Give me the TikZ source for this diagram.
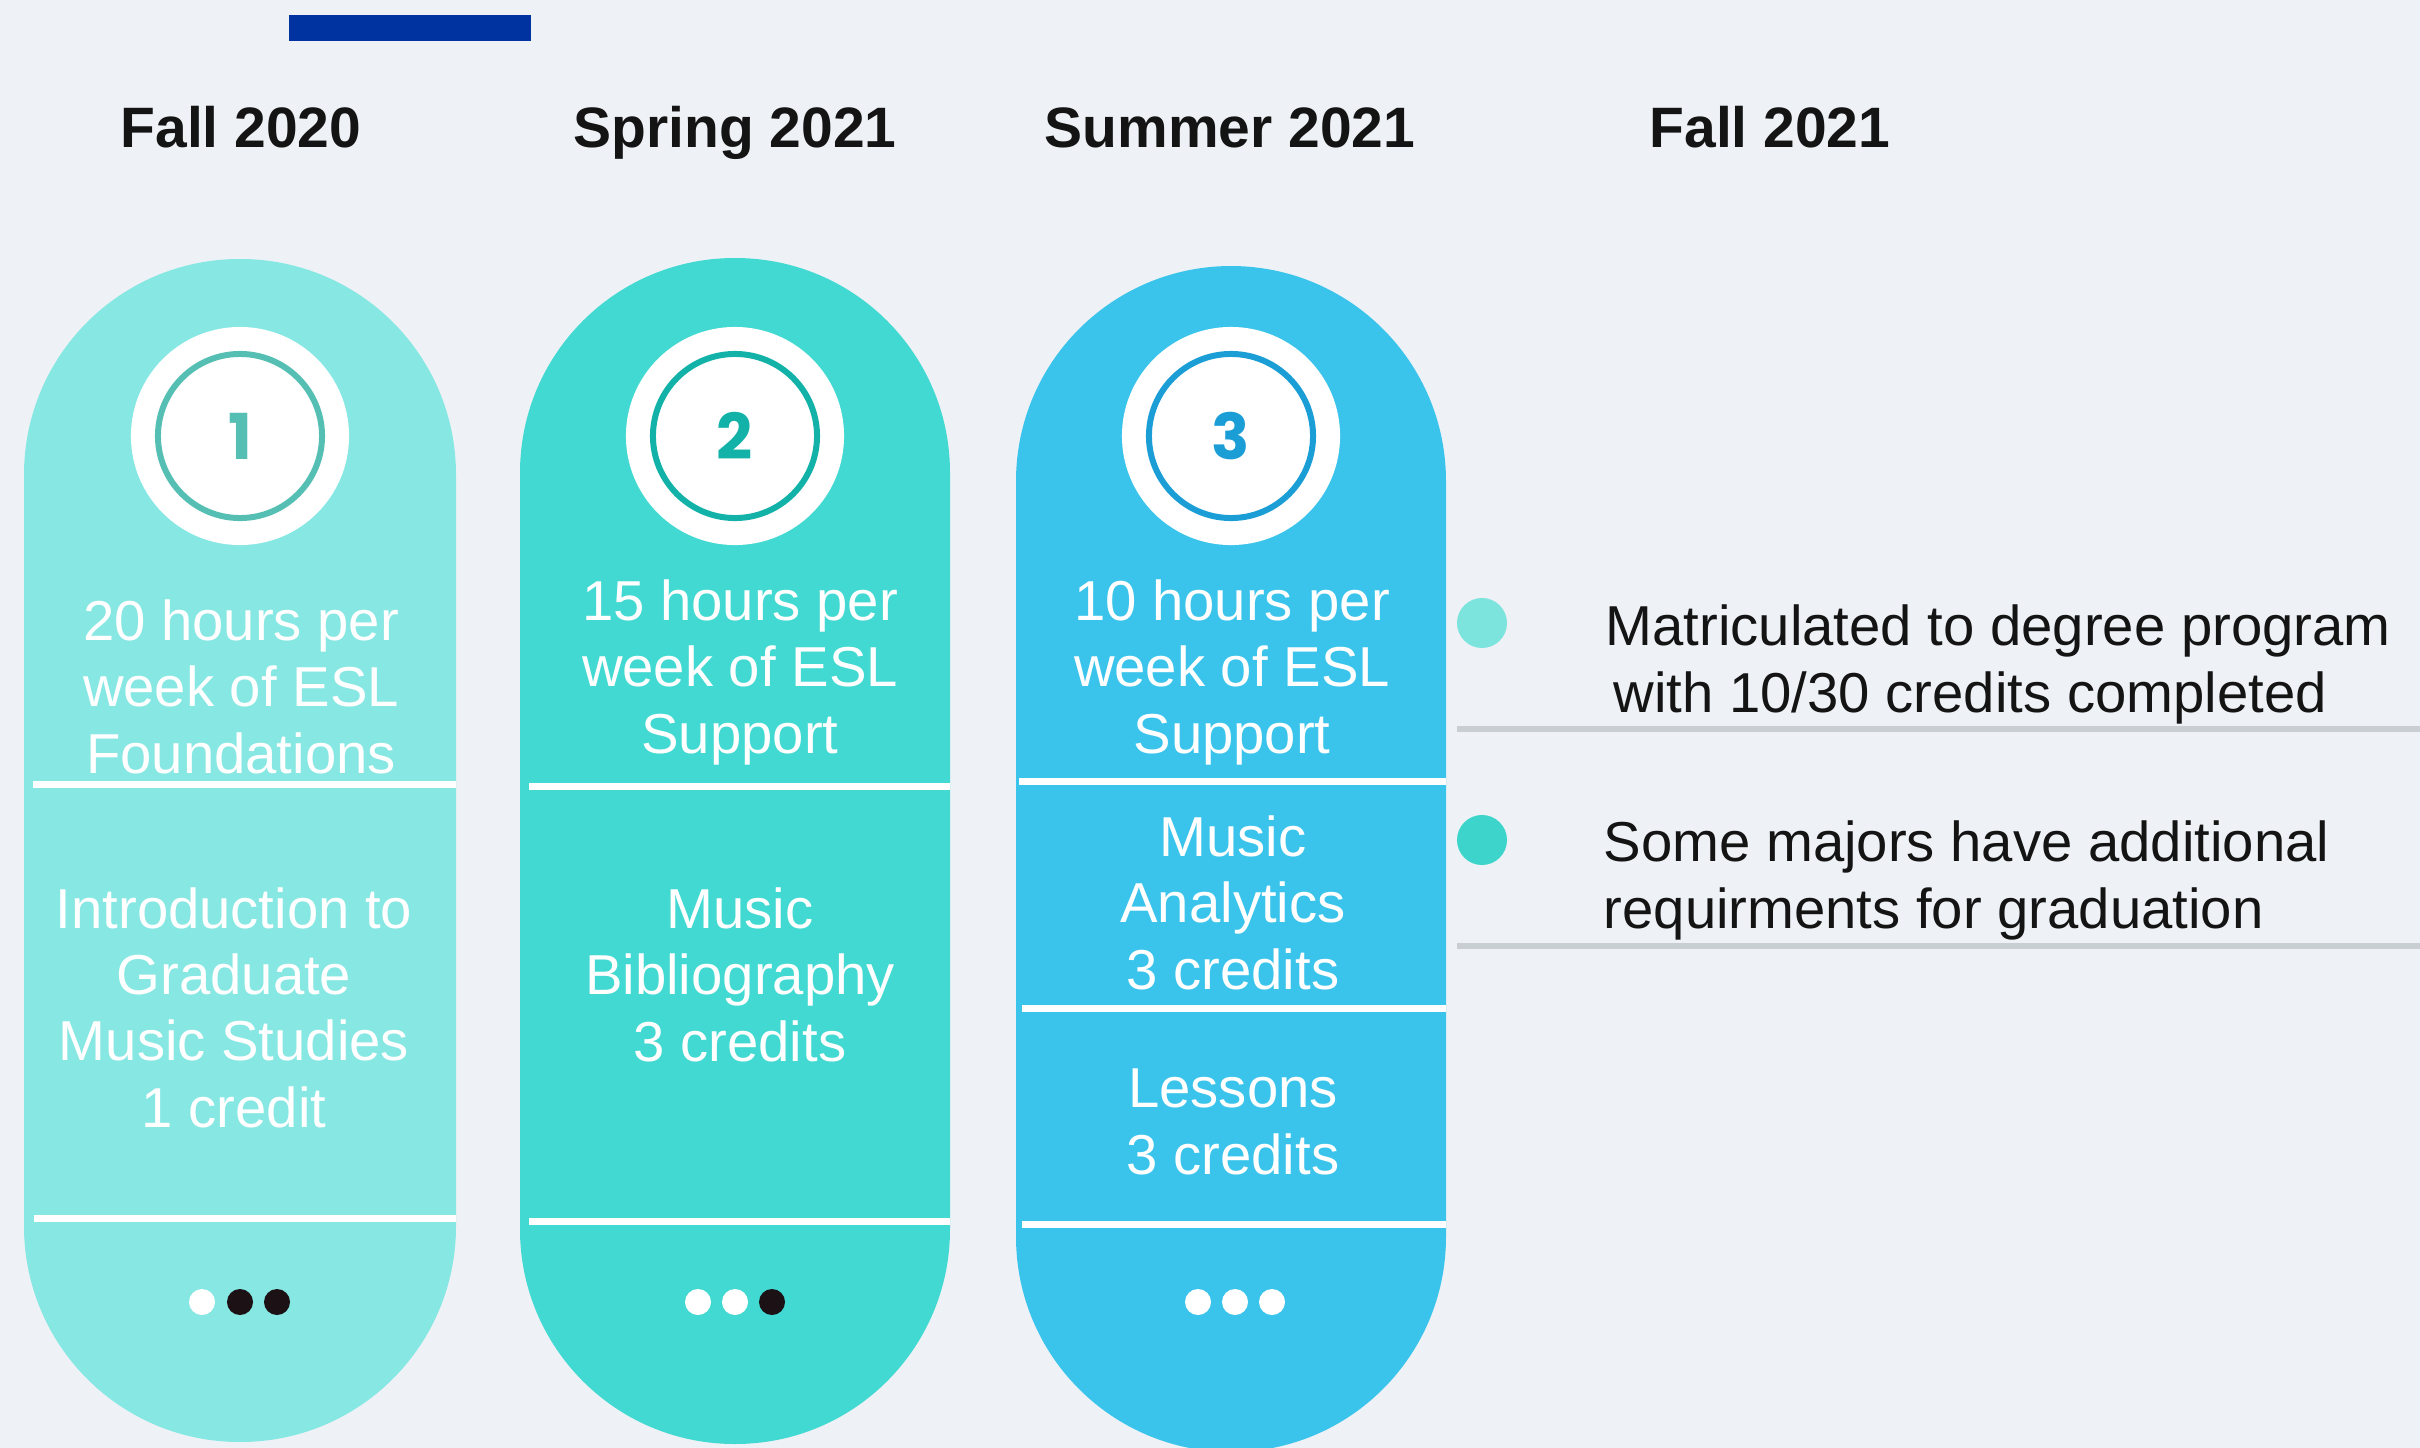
\documentclass[tikz,border=0pt]{standalone}
\usepackage{fontspec}
\setmainfont{Liberation Sans}
\newfontfamily\numfont{Poppins}
\definecolor{bgc}{HTML}{EEF2F6}
\definecolor{barblue}{HTML}{0033A0}
\definecolor{pillA}{HTML}{86E7E3}
\definecolor{pillB}{HTML}{41D9D1}
\definecolor{pillC}{HTML}{3AC4EC}
\definecolor{ringA}{HTML}{56BFB3}
\definecolor{ringB}{HTML}{13B2A8}
\definecolor{ringC}{HTML}{1B9ED6}
\definecolor{dark}{HTML}{141414}
\definecolor{dotdark}{HTML}{1C1216}
\definecolor{rule}{HTML}{C9CED3}
\definecolor{bulA}{HTML}{7DE3DD}
\definecolor{bulB}{HTML}{3DD5CB}
\tikzset{
  head/.style={font=\bfseries\fontsize{16.2}{19}\selectfont, text=dark, inner sep=0, anchor=base},
  ptxt/.style={font=\fontsize{16}{18.8}\selectfont, text=white, align=center, inner sep=0, anchor=base},
  rtxt/.style={font=\fontsize{16}{18.8}\selectfont, text=dark, align=left, inner sep=0, anchor=base west},
  numtxt/.style={font=\numfont\bfseries\fontsize{18}{20}\selectfont, inner sep=0},
  sep/.style={white, line width=0.07cm},
  grayrule/.style={rule, line width=0.06cm},
  ring/.style={line width=0.06cm},
}
\begin{document}
\begin{tikzpicture}[x=0.01cm,y=-0.01cm]
\useasboundingbox (0,0) rectangle (2420,1448);
\fill[bgc] (0,0) rectangle (2420,1448);
\fill[barblue] (289,15) rectangle (531,41);
% headings
\node[head] (h1) at (241,147) {Fall 2020};
\node[head] (h2) at (735,147) {Spring 2021};
\node[head] (h3) at (1230,147) {Summer 2021};
\node[head] (h4) at (1770,147) {Fall 2021};
% pills
\fill[pillA, rounded corners=2.155cm] (24,259) rectangle (456,1442);
\fill[pillB, rounded corners=2.145cm] (520,258) rectangle (950,1444);
\fill[pillC, rounded corners=2.15cm] (1016,266) rectangle (1446,1452);
% circles
\fill[white] (240,436) circle (1.09cm);
\draw[ring, ringA] (240,436) circle (0.82cm);
\node[numtxt, text=ringA] (n1) at (240,436) {1};
\fill[white] (735,436) circle (1.09cm);
\draw[ring, ringB] (735,436) circle (0.82cm);
\node[numtxt, text=ringB] (n2) at (735,436) {2};
\fill[white] (1231,436) circle (1.09cm);
\draw[ring, ringC] (1231,436) circle (0.82cm);
\node[numtxt, text=ringC] (n3) at (1231,436) {3};
% separators
\draw[sep] (33,784) -- (456,784);
\draw[sep] (34,1218) -- (456,1218);
\draw[sep] (529,786) -- (950,786);
\draw[sep] (529,1221) -- (950,1221);
\draw[sep] (1019,781) -- (1446,781);
\draw[sep] (1022,1008) -- (1446,1008);
\draw[sep] (1022,1224) -- (1446,1224);
% pill texts (anchor = baseline of last line)
\node[ptxt] (a1) at (241,773) {20 hours per\\week of ESL\\Foundations};
\node[ptxt] (a2) at (234,1127) {Introduction to\\Graduate\\Music Studies\\1 credit};
\node[ptxt] (b1) at (740,753) {15 hours per\\week of ESL\\Support};
\node[ptxt] (b2) at (740,1061) {Music\\Bibliography\\3 credits};
\node[ptxt] (c1) at (1232,753) {10 hours per\\week of ESL\\Support};
\node[ptxt] (c2) at (1233,989) {Music\\Analytics\\3 credits};
\node[ptxt] (c3) at (1233,1174) {Lessons\\3 credits};
% dots
\fill[white] (202,1302) circle (0.13cm);
\fill[dotdark] (240,1302) circle (0.13cm);
\fill[dotdark] (277,1302) circle (0.13cm);
\fill[white] (698,1302) circle (0.13cm);
\fill[white] (735,1302) circle (0.13cm);
\fill[dotdark] (772,1302) circle (0.13cm);
\fill[white] (1198,1302) circle (0.13cm);
\fill[white] (1235,1302) circle (0.13cm);
\fill[white] (1272,1302) circle (0.13cm);
% right side
\fill[bulA] (1482,623) circle (0.25cm);
\fill[bulB] (1482,840) circle (0.25cm);
\draw[grayrule] (1457,729) -- (2420,729);
\draw[grayrule] (1457,946) -- (2420,946);
\node[rtxt] (r1) at (1605,712) {Matriculated to degree program\\\hspace*{0.08cm}with 10/30 credits completed};
\node[rtxt] (r2) at (1603,928) {Some majors have additional\\requirments for graduation};
\end{tikzpicture}
\end{document}
